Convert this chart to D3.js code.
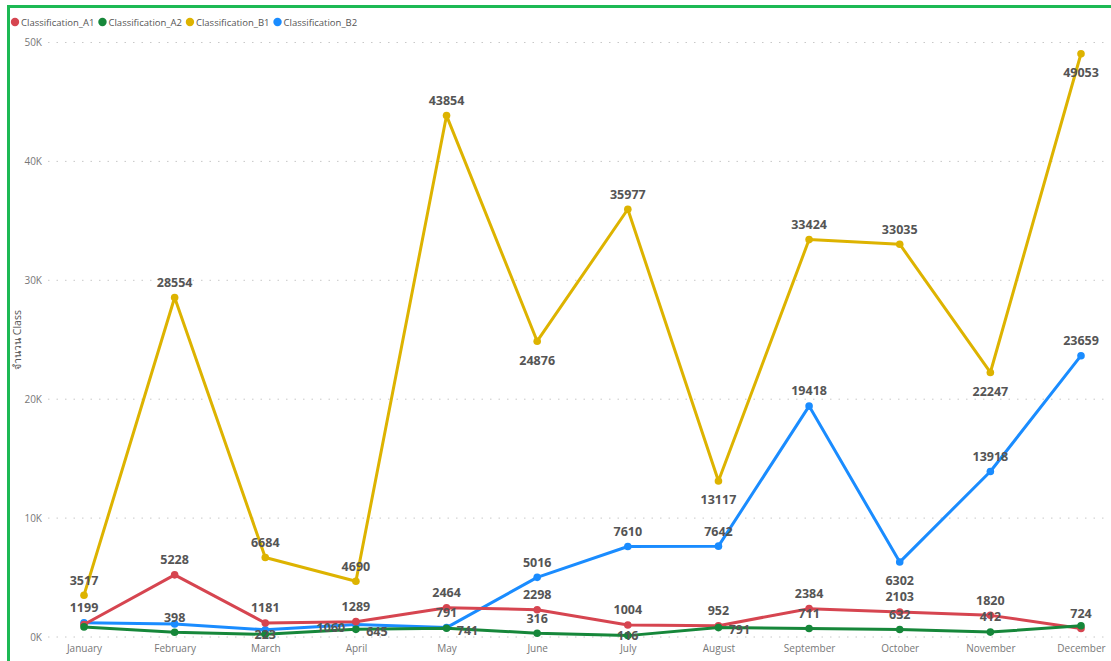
<!DOCTYPE html>
<html><head><meta charset="utf-8">
<script src="https://cdn.jsdelivr.net/npm/d3@7"></script>
<style>
body{margin:0;background:#fff;}
svg{display:block;font-family:"Open Sans","Noto Sans",sans-serif;}
</style></head>
<body><svg id="c" width="1111" height="661"></svg>
<script>
const months = ["January","February","March","April","May","June","July","August","September","October","November","December"];
const seriesNames = ["Classification_A1","Classification_A2","Classification_B1","Classification_B2"];
const valuesA1 = [1050,5228,1181,1289,2464,2298,1004,952,2384,2103,1820,724];
const valuesA2 = [850,398,223,645,741,316,116,791,711,632,412,950];
const valuesB1 = [3517,28554,6684,4690,43854,24876,35977,13117,33424,33035,22247,49053];
const valuesB2 = [1199,1100,600,1060,791,5016,7610,7642,19418,6302,13918,23659];
const yTicks = [0,10000,20000,30000,40000,50000];
// label placement codes: a=above, b=below, h=hidden, l=left, r=right, c=on point
const placeA1 = ["h","a","a","a","a","a","a","a","a","a","a","a"];
const placeA2 = ["h","a","c","r","r","a","c","r","a","a","a","h"];
const placeB1 = ["a","a","a","a","a","b","a","b","a","a","b","b"];
const placeB2 = ["a","h","h","l","a","a","a","a","a","b","a","a"];

const colors = ["#D64550","#16873A","#DDB300","#1A8CFF"];
const seriesVals = [valuesA1,valuesA2,valuesB1,valuesB2];
const seriesPlace = [placeA1,placeA2,placeB1,placeB2];

const svg = d3.select("#c");
// border
svg.append("path").attr("d","M8.5,661 L8.5,6.5 L1111,6.5").attr("fill","none").attr("stroke","#1DB954").attr("stroke-width",3);

const x = d3.scalePoint().domain(months).range([84,1081]);
const y = d3.scaleLinear().domain([0,50000]).range([637,42.5]);

// gridlines
svg.append("g").selectAll("line").data(yTicks).join("line")
  .attr("x1",48).attr("x2",1108).attr("y1",d=>y(d)).attr("y2",d=>y(d))
  .attr("stroke","#c8c8c8").attr("stroke-width",1).attr("stroke-dasharray","1.5,7");

// y axis
const yAxis = d3.axisLeft(y).tickValues(yTicks).tickSize(0).tickPadding(0).tickFormat(d=>(d/1000)+"K");
const gy = svg.append("g").attr("transform","translate(42,0)").call(yAxis);
gy.select(".domain").remove();
gy.selectAll("text").attr("fill","#777").attr("font-size","10px").attr("font-family","Open Sans, sans-serif");

// x axis
const xAxis = d3.axisBottom(x).tickSize(0).tickPadding(0);
const gx = svg.append("g").attr("transform","translate(0,645)").call(xAxis);
gx.select(".domain").remove();
gx.selectAll("text").attr("fill","#777").attr("font-size","10px").attr("font-family","Open Sans, sans-serif");

// y title
svg.append("text").attr("transform","translate(21,340) rotate(-90)").attr("text-anchor","middle")
  .attr("fill","#555").attr("font-size","10.5px").text("จำนวน Class");

// legend
let lx = 15;
const lg = svg.append("g");
seriesNames.forEach((n,i)=>{
  lg.append("circle").attr("cx",lx).attr("cy",22).attr("r",4.2).attr("fill",colors[i]);
  const t = lg.append("text").attr("x",lx+6).attr("y",25.5).attr("fill","#555").attr("font-size","9.5px").text(n);
  lx += t.node().getComputedTextLength() + 14;
});

// lines
const line = d3.line().x((d,i)=>x(months[i])).y(d=>y(d));
const order = [2,3,0,1];
order.forEach(si=>{
  const g = svg.append("g");
  g.append("path").datum(seriesVals[si]).attr("d",line).attr("fill","none")
    .attr("stroke",colors[si]).attr("stroke-width",3).attr("stroke-linejoin","round");
  g.selectAll("circle").data(seriesVals[si]).join("circle")
    .attr("cx",(d,i)=>x(months[i])).attr("cy",d=>y(d)).attr("r",3.8).attr("fill",colors[si]);
});

// labels
const off = {a:[0,-15],b:[0,19],l:[-25,3],r:[21,2],c:[0,0]};
const lblG = svg.append("g");
[0,1,2,3].forEach(si=>{
  seriesVals[si].forEach((v,i)=>{
    const p = seriesPlace[si][i];
    if(p==="h") return;
    const o = off[p];
    lblG.append("text").attr("x",x(months[i])+o[0]).attr("y",y(v)+o[1]).attr("dy","0.35em")
      .attr("text-anchor","middle").attr("font-size","12.5px").attr("font-weight","bold")
      .attr("fill","#555").text(v);
  });
});
</script></body></html>
